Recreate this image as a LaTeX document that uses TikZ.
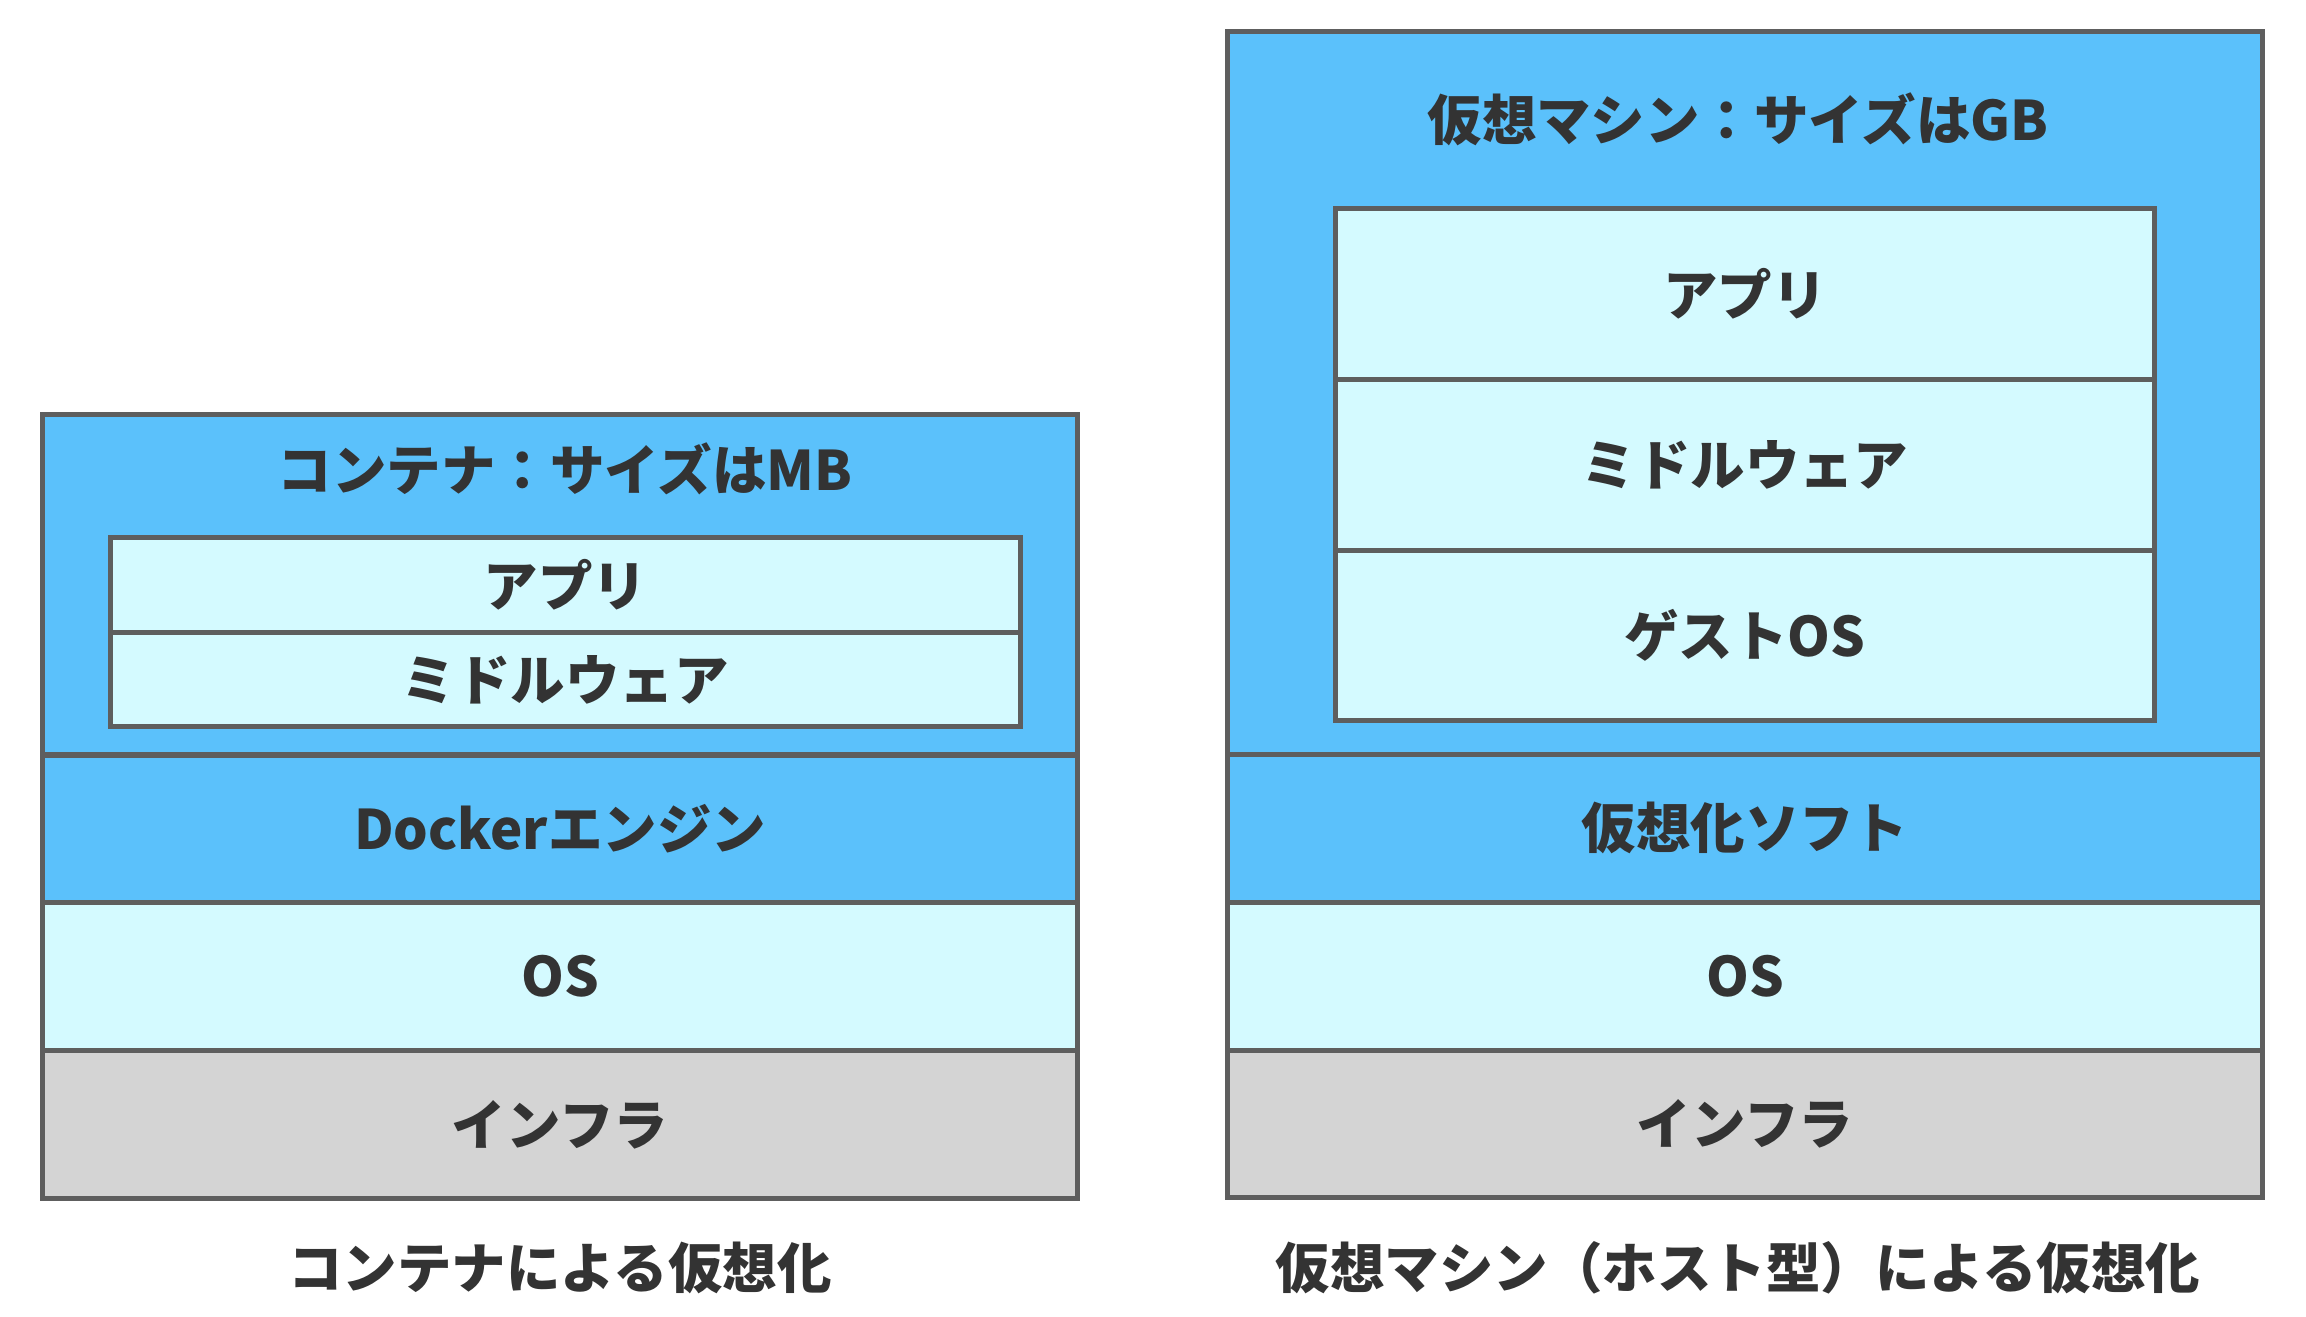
\documentclass[tikz,border=0pt]{standalone}
\usepackage{fontspec}
\setmainfont{Noto Sans CJK JP}
\usepackage{xcolor}
\usepackage{tikz}
\usetikzlibrary{positioning}

\definecolor{edge}{HTML}{5E5E5E}
\definecolor{ink}{HTML}{333333}
\definecolor{skyblue}{HTML}{5BC1FB}
\definecolor{paleblue}{HTML}{D4FAFF}
\definecolor{infragray}{HTML}{D4D4D4}

\begin{document}
\begin{tikzpicture}[
    layer/.style={draw=edge, line width=1.45pt, fill=#1, text=ink,
                  font=\fontsize{15.5pt}{18pt}\selectfont\bfseries,
                  minimum width=10.35cm, minimum height=1.478cm,
                  inner sep=0pt, outer sep=0pt, anchor=north},
    layer/.default=paleblue,
    lbl/.style={text=ink, font=\fontsize{15.5pt}{18pt}\selectfont\bfseries,
                inner sep=0pt},
  ]
  \useasboundingbox (0,0) rectangle (23.06,-13.16);

  % Container side
  \node[layer=skyblue, minimum height=3.405cm] (cont) at (5.6,-4.145) {};
  \node[lbl] (conttitle) at (5.65,-4.69) {コンテナ：サイズはMB};
  \node[layer, minimum width=9.095cm, minimum height=0.946cm] (app1) at (5.653,-5.375) {アプリ};
  \node[layer, minimum width=9.095cm, minimum height=0.946cm, below=0 of app1] (mid1) {ミドルウェア};
  \node[layer=skyblue, below=0 of cont] (docker) {Dockerエンジン};
  \node[layer, below=0 of docker] (os1) {OS};
  \node[layer=infragray, below=0 of os1] (infra1) {インフラ};
  \node[lbl] (cap1) at (5.6,-12.68) {コンテナによる仮想化};

  % Virtual machine side
  \node[layer=skyblue, minimum height=7.23cm] (vm) at (17.45,-0.315) {};
  \node[lbl] (vmtitle) at (17.38,-1.19) {仮想マシン：サイズはGB};
  \node[layer, minimum width=8.19cm, minimum height=1.708cm] (app2) at (17.45,-2.085) {アプリ};
  \node[layer, minimum width=8.19cm, minimum height=1.708cm, below=0 of app2] (mid2) {ミドルウェア};
  \node[layer, minimum width=8.19cm, minimum height=1.708cm, below=0 of mid2] (guest) {ゲストOS};
  \node[layer=skyblue, below=0 of vm] (virt) {仮想化ソフト};
  \node[layer, below=0 of virt] (os2) {OS};
  \node[layer=infragray, below=0 of os2] (infra2) {インフラ};
  \node[lbl] (cap2) at (17.38,-12.68) {仮想マシン（ホスト型）による仮想化};
\end{tikzpicture}
\end{document}
